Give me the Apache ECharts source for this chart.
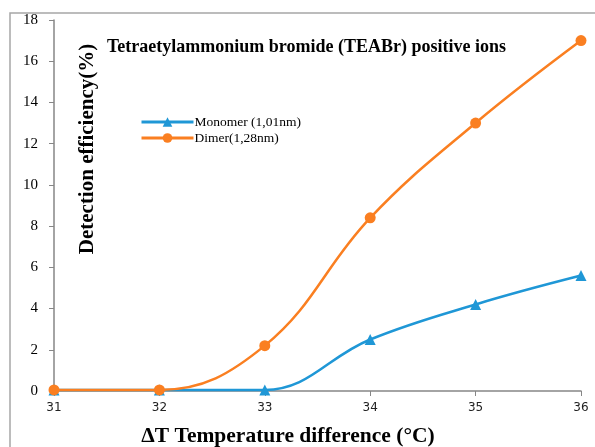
<!DOCTYPE html>
<html><head><meta charset="utf-8">
<script src="https://cdn.jsdelivr.net/npm/echarts@6/dist/echarts.min.js"></script>
<style>html,body{margin:0;padding:0;background:#fff}#c{width:595px;height:447px}</style>
</head><body><div id="c"></div>
<script>
var temps = [31, 32, 33, 34, 35, 36];
var monomer = [0.05, 0.05, 0.05, 2.5, 4.2, 5.6];
var dimer = [0.05, 0.05, 2.2, 8.4, 13.0, 17.0];
var seriesNames = ['Monomer (1,01nm)', 'Dimer(1,28nm)'];
var titleText = 'Tetraetylammonium bromide (TEABr) positive ions';
var xTitle = '\u0394T Temperature difference (\u00B0C)';
var yTitle = 'Detection efficiency(%)';

function pairs(v){ return temps.map(function(t,i){ return [t, v[i]]; }); }

var chart = echarts.init(document.getElementById('c'), null, {renderer:'canvas'});
chart.setOption({
  animation:false,
  backgroundColor:'#fff',
  grid:{left:54, right:14, top:20, bottom:56, outerBoundsMode:'none', containLabel:false},
  title:{text:titleText, left:102, top:33, textStyle:{fontFamily:'Liberation Serif', fontWeight:'bold', fontSize:18, color:'#000'}},
  legend:{
    orient:'vertical', left:135, top:110, itemWidth:52, itemHeight:12, itemGap:2,
    textStyle:{fontFamily:'Liberation Serif', fontSize:13.5, color:'#000', padding:[0,0,0,-4]},
    data:[
      {name:seriesNames[0], lineStyle:{width:3}},
      {name:seriesNames[1], lineStyle:{width:3}}
    ]
  },
  xAxis:{type:'value', min:31, max:36, interval:1,
    axisLine:{lineStyle:{color:'#868686', width:1.5}},
    axisTick:{show:true, length:5, lineStyle:{color:'#868686'}},
    axisLabel:{fontFamily:'DejaVu Sans', fontSize:12, color:'#222', margin:11},
    splitLine:{show:false}
  },
  yAxis:{type:'value', min:0, max:18, interval:2,
    axisLine:{show:true, lineStyle:{color:'#868686', width:1.5}},
    axisTick:{show:true, length:5, lineStyle:{color:'#868686'}},
    axisLabel:{fontFamily:'Liberation Serif', fontSize:15, color:'#000', margin:16},
    splitLine:{show:false}
  },
  graphic:[
    {type:'rect', shape:{x:10, y:13, width:620, height:460}, style:{fill:'none', stroke:'#a6a6a6', lineWidth:1.5}, z:-1},
    {type:'text', x:88, y:149, rotation:Math.PI/2, style:{text:yTitle, font:'bold 21px "Liberation Serif"', fill:'#000', align:'center', verticalAlign:'middle'}},
    {type:'text', x:288, y:436, style:{text:xTitle, font:'bold 21.5px "Liberation Serif"', fill:'#000', align:'center', verticalAlign:'middle'}}
  ],
  series:[
    {name:seriesNames[0], type:'line', data:pairs(monomer), smooth:0.4, symbol:'triangle', symbolSize:11,
     itemStyle:{color:'#1F97D6'}, lineStyle:{width:2.5, color:'#1F97D6'}},
    {name:seriesNames[1], type:'line', data:pairs(dimer), smooth:0.4, symbol:'circle', symbolSize:11,
     itemStyle:{color:'#FA7F21'}, lineStyle:{width:2.5, color:'#FA7F21'}}
  ]
});
</script></body></html>
